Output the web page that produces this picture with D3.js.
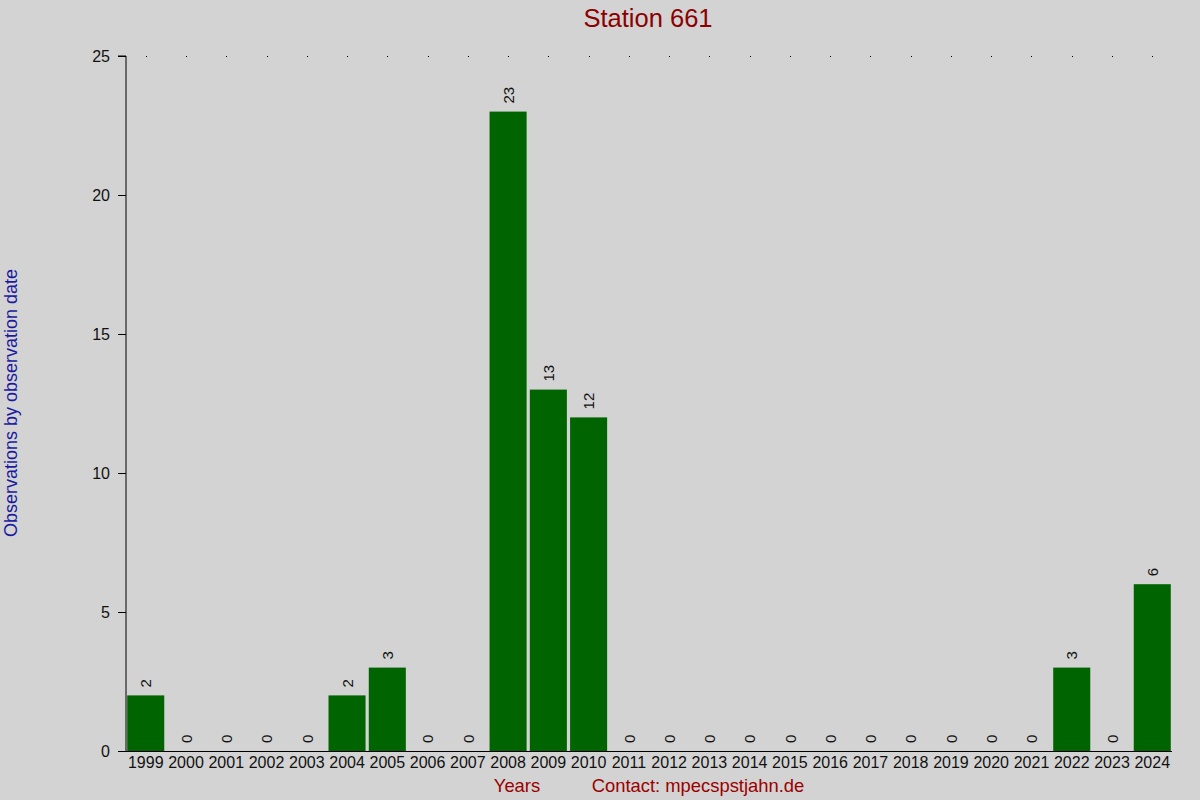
<!DOCTYPE html>
<html>
<head>
<meta charset="utf-8">
<script src="https://cdn.jsdelivr.net/npm/d3@7"></script>
<style>
html,body{margin:0;padding:0;background:#d3d3d3;}
svg{display:block;font-family:"Liberation Sans",Arial,sans-serif;}
</style>
</head>
<body>
<svg id="chart" width="1200" height="800"></svg>
<script>
const years = ["1999","2000","2001","2002","2003","2004","2005","2006","2007","2008","2009","2010","2011","2012","2013","2014","2015","2016","2017","2018","2019","2020","2021","2022","2023","2024"];
const counts = [2,0,0,0,0,2,3,0,0,23,13,12,0,0,0,0,0,0,0,0,0,0,0,3,0,6];
const yTicks = [0,5,10,15,20,25];
const titleText = "Station 661";
const yTitle = "Observations by observation date";
const xTitle = "Years";
const contactText = "Contact: mpecspstjahn.de";

const svg = d3.select("#chart");
svg.append("rect").attr("width",1200).attr("height",800).attr("fill","#d3d3d3");

const pL = 126, pR = 1172, pT = 56, pB = 751;
const x = d3.scaleBand().domain(years).range([pL, pR]).paddingInner(0.08).paddingOuter(0.03);
const y = d3.scaleLinear().domain([0,25]).range([pB, pT]);

// top dots
svg.append("g").selectAll("rect").data(years).join("rect")
  .attr("x", d => Math.round(x(d) + x.bandwidth()/2))
  .attr("y", Math.round(y(25)))
  .attr("width",1).attr("height",1).attr("fill","#000");

// bars
svg.append("g").selectAll("rect").data(years).join("rect")
  .attr("x", d => x(d))
  .attr("y", (d,i) => y(counts[i]))
  .attr("width", x.bandwidth())
  .attr("height", (d,i) => y(0) - y(counts[i]))
  .attr("fill", "#006400");

// value labels
svg.append("g").selectAll("text").data(years).join("text")
  .attr("transform", (d,i) => `translate(${x(d) + x.bandwidth()/2 + 0.5},${y(counts[i]) - 8}) rotate(-90)`)
  .attr("dy","0.35em")
  .attr("text-anchor","start")
  .attr("font-size",15)
  .attr("fill","#111")
  .text((d,i) => counts[i]);

// y axis
const yAxis = d3.axisLeft(y).tickValues(yTicks).tickSize(8).tickPadding(8);
const gy = svg.append("g").attr("transform",`translate(${pL},0)`).call(yAxis);
gy.select(".domain").attr("stroke","#000").attr("d", `M-8,${pT}H0V${pB}`);
gy.selectAll(".tick line").attr("stroke","#000");
gy.selectAll(".tick text").attr("font-size",16).attr("fill","#111").attr("font-family","Liberation Sans, Arial, sans-serif");

// x axis
const xAxis = d3.axisBottom(x).tickSize(0).tickPadding(6);
const gx = svg.append("g").attr("transform",`translate(0,${pB})`).call(xAxis);
gx.select(".domain").attr("stroke","#000").attr("d", `M${pL-8},0.5H${pR}`);
gx.selectAll(".tick text").attr("font-size",16).attr("fill","#111").attr("font-family","Liberation Sans, Arial, sans-serif");

// title
svg.append("text").attr("x",648).attr("y",27).attr("text-anchor","middle")
  .attr("font-size",25.5).attr("fill","#8b0000").text(titleText);

// y title
svg.append("text").attr("transform","translate(17,403) rotate(-90)").attr("text-anchor","middle")
  .attr("font-size",18).attr("fill","#1a1aa0").text(yTitle);

// x title & contact
svg.append("text").attr("x",517).attr("y",792).attr("text-anchor","middle")
  .attr("font-size",18.4).attr("fill","#9b0000").text(xTitle);
svg.append("text").attr("x",698).attr("y",792).attr("text-anchor","middle")
  .attr("font-size",18.4).attr("fill","#9b0000").text(contactText);
</script>
</body>
</html>
